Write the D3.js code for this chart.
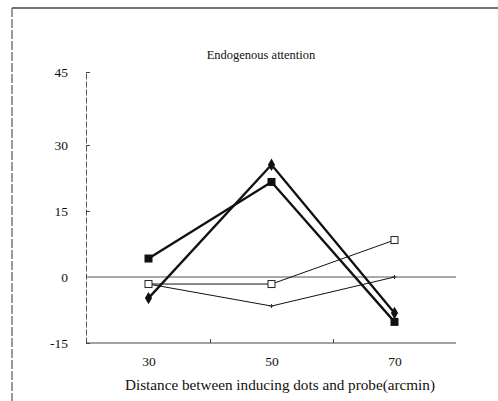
<!DOCTYPE html>
<html>
<head>
<meta charset="utf-8">
<script src="https://cdn.jsdelivr.net/npm/d3@7"></script>
<style>
  html, body { margin: 0; padding: 0; background: #fff; }
  svg { display: block; }
  text { font-family: "Liberation Serif", "Times New Roman", serif; fill: #111; }
</style>
</head>
<body>
<div id="chart"></div>
<script>
// Distance conditions (arcmin)
const distances = [30, 50, 70];
// Four conditions, values in the same order as distances
const filledSquare = [4.2, 21.6, -10.2];
const filledDiamond = [-4.8, 25.5, -8.2];
const openSquare = [-1.6, -1.6, 8.4];
const crossMarker = [-1.6, -6.6, 0];
const yTicks = [-15, 0, 15, 30, 45];
const xLabelTicks = [30, 50, 70];
const xMarkTicks = [40, 60];

const W = 498, H = 401;
const svg = d3.select("#chart").append("svg")
  .attr("width", W).attr("height", H);

// Outer frame (top rule and left rule)
svg.append("line").attr("x1", 12).attr("x2", W).attr("y1", 8).attr("y2", 8)
  .attr("stroke", "#444").attr("stroke-width", 1.6);
svg.append("line").attr("x1", 12).attr("x2", 12).attr("y1", 8).attr("y2", H)
  .attr("stroke", "#555").attr("stroke-width", 1.2).attr("stroke-dasharray", "9,2");

const x = d3.scaleLinear().domain([20, 80]).range([87, 456]);
const y = d3.scaleLinear().domain([-15, 0, 15, 30, 45]).range([343, 277, 211, 145, 72]);

// Title
svg.append("text").attr("x", 261).attr("y", 59).attr("text-anchor", "middle")
  .style("font-size", "12.5px").text("Endogenous attention");

// Y axis
const yAxis = svg.append("g").attr("transform", "translate(86,0)")
  .call(d3.axisLeft(y).tickValues(yTicks).tickSizeInner(-4).tickSizeOuter(0).tickPadding(18)
    .tickFormat(d => String(d)));
yAxis.select(".domain").attr("stroke", "#555").attr("stroke-width", 1).attr("stroke-dasharray", "6,2");
yAxis.selectAll(".tick line").attr("stroke", "#444");
yAxis.selectAll(".tick text").style("font-size", "13.5px").attr("dy", "0.35em");
yAxis.selectAll(".tick").filter(d => d === 0).select("line").remove();

// X axis: tick marks at 40/60, labels at 30/50/70
const xMarks = svg.append("g").attr("transform", "translate(0,343)")
  .call(d3.axisBottom(x).tickValues(xMarkTicks).tickSizeInner(-4).tickSizeOuter(0).tickFormat(""));
xMarks.select(".domain").attr("d", `M86,0H456`).attr("stroke", "#444").attr("stroke-width", 1.2);
xMarks.selectAll(".tick line").attr("stroke", "#444");

const xLabels = svg.append("g").attr("transform", "translate(0,343)")
  .call(d3.axisBottom(x).tickValues(xLabelTicks).tickSize(0).tickPadding(13).tickFormat(d => String(d)));
xLabels.select(".domain").remove();
xLabels.selectAll(".tick text").style("font-size", "13.5px");

svg.append("text").attr("x", 280).attr("y", 390).attr("text-anchor", "middle")
  .style("font-size", "15.2px").text("Distance between inducing dots and probe(arcmin)");

// Zero reference line
svg.append("line").attr("x1", 86).attr("x2", 456).attr("y1", y(0)).attr("y2", y(0))
  .attr("stroke", "#555").attr("stroke-width", 1.1);

const line = d3.line().x((d, i) => x(distances[i])).y(d => y(d));

function drawSeries(vals, width) {
  svg.append("path").datum(vals).attr("d", line)
    .attr("fill", "none").attr("stroke", "#111").attr("stroke-width", width)
    .attr("stroke-linejoin", "miter");
}

drawSeries(crossMarker, 1);
drawSeries(openSquare, 1);
drawSeries(filledSquare, 2.3);
drawSeries(filledDiamond, 2.3);

// Markers
svg.selectAll(".cross").data(crossMarker).enter().append("path")
  .attr("transform", (d, i) => `translate(${x(distances[i])},${y(d)})`)
  .attr("d", "M-2,0H2M0,-2V2").attr("stroke", "#333").attr("stroke-width", 1);

svg.selectAll(".osq").data(openSquare).enter().append("rect")
  .attr("x", (d, i) => x(distances[i]) - 3.5).attr("y", d => y(d) - 3.5)
  .attr("width", 7).attr("height", 7).attr("fill", "#fff").attr("stroke", "#222").attr("stroke-width", 1);

svg.selectAll(".fsq").data(filledSquare).enter().append("rect")
  .attr("x", (d, i) => x(distances[i]) - 4).attr("y", d => y(d) - 4)
  .attr("width", 8).attr("height", 8).attr("fill", "#111");

svg.selectAll(".fdi").data(filledDiamond).enter().append("path")
  .attr("transform", (d, i) => `translate(${x(distances[i])},${y(d)})`)
  .attr("d", d3.symbol().type(d3.symbolDiamond).size(45)).attr("fill", "#111");
</script>
</body>
</html>
